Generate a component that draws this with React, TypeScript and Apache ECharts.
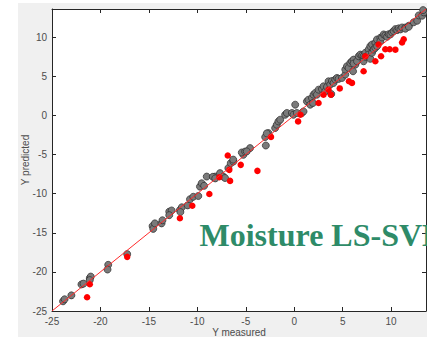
import React, { useEffect, useRef } from "react";
import * as echarts from "echarts";

const axisMin = -25;
const axisMax = 13.6;
const tickStep = 5;

const grayPoints: [number, number][] = [
  [-23.86, -23.76], [-23.7, -23.5], [-23.0, -23.0], [-21.96, -21.6], [-21.75, -21.5],
  [-21.1, -20.8], [-21.0, -20.6], [-21.1, -21.05], [-19.2, -19.1], [-19.27, -19.7],
  [-17.24, -17.73],
  [-14.62, -14.14], [-14.55, -14.5], [-14.38, -13.8], [-13.69, -13.8], [-13.6, -13.4],
  [-12.9, -12.3], [-12.65, -12.15], [-12.9, -12.75], [-11.8, -12.1], [-11.6, -11.74],
  [-11.75, -12.35], [-11.0, -11.5], [-10.76, -10.72], [-10.42, -10.4], [-9.9, -10.3],
  [-9.73, -9.1], [-9.55, -8.67], [-9.3, -9.0], [-9.03, -7.82], [-8.17, -7.82],
  [-8.4, -7.85], [-8.15, -8.05], [-7.66, -7.38], [-7.32, -7.82], [-7.14, -8.0],
  [-6.8, -6.74], [-6.55, -6.1], [-6.28, -5.9], [-6.3, -5.65], [-5.25, -5.04],
  [-5.41, -4.74], [-5.07, -4.62], [-4.56, -4.18], [-4.9, -4.6], [-2.93, -3.85],
  [-3.0, -2.77], [-2.66, -2.26], [-2.83, -2.3], [-1.97, -1.62], [-1.8, -1.19],
  [-1.63, -0.77], [-1.45, -0.55], [-0.94, 0.08], [-0.76, 0.31], [-0.24, 0.31],
  [0.1, 1.37], [-0.08, 0.08], [0.27, 0.31], [0.79, 0.31], [0.96, 0.51],
  [1.31, 1.79], [1.47, 2.01], [1.83, 2.23], [1.99, 2.65], [2.17, 2.87],
  [1.65, 1.37], [1.93, 1.59], [2.34, 2.65], [2.51, 3.29], [2.86, 3.38],
  [3.02, 3.72], [3.2, 3.08], [3.38, 3.64], [3.54, 4.36], [3.72, 3.94],
  [3.89, 4.4], [4.06, 4.15], [4.23, 4.58], [4.41, 4.79], [3.82, 2.74], [4.58, 4.67],
  [4.93, 4.79], [5.27, 5.22], [5.27, 5.86], [5.44, 6.28], [5.61, 6.07],
  [5.79, 6.71], [5.96, 6.92], [6.31, 6.49], [6.13, 7.13], [6.13, 6.63],
  [6.07, 5.64], [6.48, 6.92], [6.65, 7.56], [6.82, 7.77], [7.0, 7.65],
  [7.16, 7.56], [7.16, 6.92], [7.34, 8.0], [7.34, 7.49], [7.68, 8.42],
  [7.68, 7.78], [7.85, 8.85], [7.85, 7.23], [8.03, 9.06], [8.03, 8.0],
  [8.2, 8.42], [8.37, 9.27], [8.37, 8.64], [8.54, 9.7], [8.55, 8.85],
  [8.89, 9.92], [8.89, 9.49], [9.06, 9.96], [9.23, 10.35], [9.4, 10.22],
  [9.58, 10.05], [9.75, 10.38], [9.92, 10.35], [10.1, 10.6], [10.26, 10.77],
  [10.44, 11.03], [10.62, 10.9], [10.78, 11.12], [10.96, 10.99], [11.13, 11.24],
  [11.47, 11.24], [11.47, 11.08], [11.82, 11.46], [11.82, 11.33], [12.33, 11.9],
  [12.69, 12.1], [12.85, 12.78], [13.2, 12.74], [13.37, 13.17], [13.3, 13.46],
];

const redPoints: [number, number][] = [
  [-21.38, -23.24], [-21.1, -21.58], [-17.24, -18.08], [-11.8, -13.15], [-10.52, -11.54],
  [-8.76, -10.04], [-7.73, -7.9], [-6.62, -8.37], [-6.7, -6.96], [-6.86, -5.13],
  [-5.52, -6.32], [-3.8, -7.09], [-2.4, -2.75], [0.4, -0.77], [0.65, 0.09],
  [2.51, 1.59], [3.02, 2.65], [3.54, 3.29], [3.79, 2.65], [4.7, 3.45],
  [5.65, 4.36], [5.96, 4.15], [7.16, 5.64], [7.34, 7.56], [8.37, 6.92],
  [8.71, 9.06], [8.96, 7.56], [9.4, 8.45], [9.85, 8.45], [10.44, 8.4],
  [11.13, 9.32], [11.3, 9.74],
];

const fitLine: [number, number][] = [
  [-25, -25],
  [13.6, 13.6],
];

const xName = "Y measured";
const yName = "Y predicted";
const annotation = "Moisture LS-SVM";

const axisColor = "#262626";
const labelColor = "#4d4d4d";
const sansFont = "Liberation Sans, Arial, Helvetica, sans-serif";

const labelFormatter = (v: number) =>
  Math.abs(v % tickStep) < 1e-9 ? String(v) : "";

function makeAxis(position: string, isMain: boolean, name?: string, nameGap?: number) {
  return {
    type: "value",
    position,
    min: axisMin,
    max: axisMax,
    interval: tickStep,
    axisLine: { show: true, onZero: false, lineStyle: { color: axisColor, width: 1 } },
    axisTick: { show: true, inside: true, length: 4, lineStyle: { color: axisColor, width: 1 } },
    axisLabel: {
      show: isMain,
      formatter: labelFormatter,
      showMaxLabel: false,
      color: labelColor,
      fontSize: 10,
      fontFamily: sansFont,
      margin: 5,
    },
    splitLine: { show: false },
    name: isMain ? name : undefined,
    nameLocation: "middle",
    nameGap,
    nameMoveOverlap: false,
    nameTextStyle: { color: labelColor, fontSize: 10, fontFamily: sansFont },
  };
}

export default function App() {
  const ref = useRef<HTMLDivElement>(null);

  useEffect(() => {
    if (!ref.current) return;
    const chart = echarts.init(ref.current, undefined, { renderer: "svg" });
    chart.setOption({
      animation: false,
      backgroundColor: "#f0f0f0",
      grid: {
        left: 52,
        top: 9,
        right: 1,
        bottom: 26,
        show: true,
        backgroundColor: "#ffffff",
        borderWidth: 0,
        containLabel: false,
        outerBoundsMode: "none",
      },
      xAxis: [makeAxis("bottom", true, xName, 16), makeAxis("top", false)],
      yAxis: [makeAxis("left", true, yName, 22), makeAxis("right", false)],
      graphic: [
        { type: "rect", left: 0, top: 0, shape: { width: 18, height: 337 }, style: { fill: "#ffffff" }, silent: true },
        { type: "rect", left: 0, top: 0, shape: { width: 427, height: 3 }, style: { fill: "#ffffff" }, silent: true },
        {
          type: "text",
          x: 199.5,
          y: 235,
          z: 100,
          style: {
            text: annotation,
            fill: "#2e8b68",
            font: "bold 32px 'Liberation Serif', 'Times New Roman', serif",
            textAlign: "left",
            verticalAlign: "middle",
          },
          silent: true,
        },
      ],
      series: [
        {
          type: "scatter",
          xAxisIndex: 0,
          yAxisIndex: 0,
          data: grayPoints,
          symbol: "circle",
          symbolSize: 7,
          itemStyle: { color: "#7a7a7a", borderColor: "#2b2b2b", borderWidth: 0.7, opacity: 1 },
          z: 2,
        },
        {
          type: "scatter",
          xAxisIndex: 0,
          yAxisIndex: 0,
          data: redPoints,
          symbol: "circle",
          symbolSize: 6.5,
          itemStyle: { color: "#ff0000", opacity: 1 },
          z: 3,
        },
        {
          type: "line",
          xAxisIndex: 0,
          yAxisIndex: 0,
          data: fitLine,
          showSymbol: false,
          symbol: "none",
          lineStyle: { color: "#ff2a2a", width: 1 },
          z: 4,
        },
      ],
    });
    return () => chart.dispose();
  }, []);

  return (
    <div
      ref={ref}
      style={{ position: "fixed", left: 0, top: 0, width: 427, height: 337 }}
    />
  );
}
